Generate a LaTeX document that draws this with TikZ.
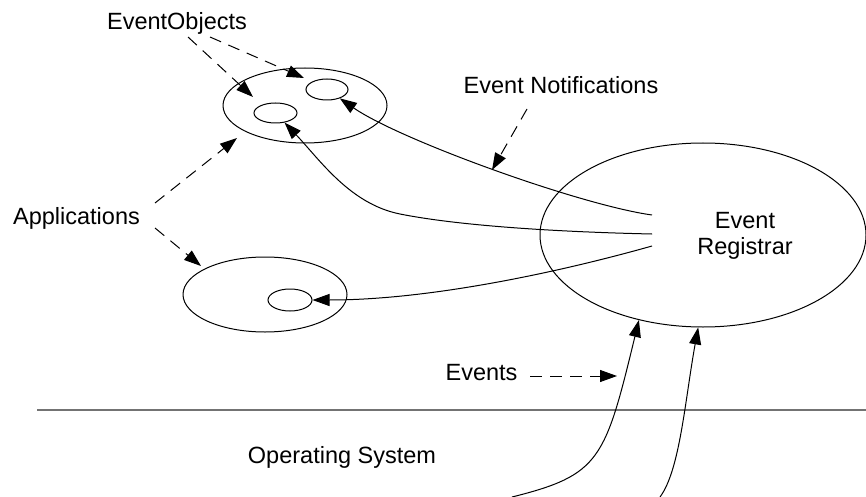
\documentclass[tikz,border=0pt]{standalone}
\usepackage{fontspec}
\setmainfont{Liberation Sans}
\usetikzlibrary{arrows.meta,shapes.geometric}
\begin{document}
\begin{tikzpicture}[x=1pt,y=-1pt,
  lbl/.style={font=\fontsize{23.5}{26}\selectfont, inner sep=0pt},
  ell/.style={draw, ellipse, inner sep=0pt, line width=1pt},
  conn/.style={line width=1pt, -{Triangle[length=17pt,width=12pt]}},
  dconn/.style={conn, dash pattern=on 12pt off 8pt},
]
\useasboundingbox (0,0) rectangle (866,497);
% ellipses
\node[ell, minimum width=164pt, minimum height=75pt] (app1) at (305,105.5) {};
\node[ell, minimum width=42pt, minimum height=21pt] (o1) at (327,89.5) {};
\node[ell, minimum width=43pt, minimum height=20pt] (o2) at (275.5,113) {};
\node[ell, minimum width=164pt, minimum height=75pt] (app2) at (265,294.5) {};
\node[ell, minimum width=44pt, minimum height=22pt] (o3) at (290,300) {};
\node[ell, minimum width=326pt, minimum height=184pt] (reg) at (703,235) {};
% labels
\node[lbl, align=center] (regt) at (745,236) {Event\\Registrar};
\node[lbl, anchor=base] (eo) at (177,30) {EventObjects};
\node[lbl, anchor=base] (apps) at (76.5,224) {Applications};
\node[lbl, anchor=base] (en) at (561,94) {Event Notifications};
\node[lbl, anchor=base] (ev) at (481.5,380) {Events};
\node[lbl, anchor=base] (os) at (342,463) {Operating System};
% OS boundary
\coordinate (osl) at (37,410);
\coordinate (osr) at (866,410);
\draw[black!55, line width=1.5pt] (osl) -- (osr);
% notifications
\coordinate (s1) at (652,215);
\coordinate (s2) at (652,234);
\coordinate (s3) at (652,246);
\draw[conn] (s1) .. controls (580,205) and (400,140) .. (o1);
\draw[conn] (s2) .. controls (560,232) and (460,226) .. (400,214) .. controls (350,204) and (320,160) .. (o2);
\draw[conn] (s3) .. controls (560,272) and (430,300) .. (o3.east);
% events
\coordinate (b1) at (512,497);
\coordinate (b2) at (660,497);
\draw[conn] (b1) .. controls (600,475) and (605,460) .. (reg.-127);
\draw[conn] (b2) .. controls (680,470) and (685,400) .. (reg.-93);
% dashed pointers
\coordinate (eoa) at (188,37);
\coordinate (eob) at (210,37);
\coordinate (ta) at (253,97);
\coordinate (tb) at (304,78);
\draw[dconn] (eoa) -- (ta);
\draw[dconn] (eob) -- (tb);
\coordinate (apa) at (155,203);
\coordinate (apb) at (155,228);
\coordinate (tc) at (237,138);
\coordinate (td) at (201,266);
\draw[dconn] (apa) -- (tc);
\draw[dconn] (apb) -- (td);
\coordinate (ena) at (527,109);
\coordinate (te) at (492,170);
\draw[dconn] (ena) -- (te);
\coordinate (eva) at (530,376);
\coordinate (tf) at (617,376);
\draw[dconn] (eva) -- (tf);
\end{tikzpicture}
\end{document}
